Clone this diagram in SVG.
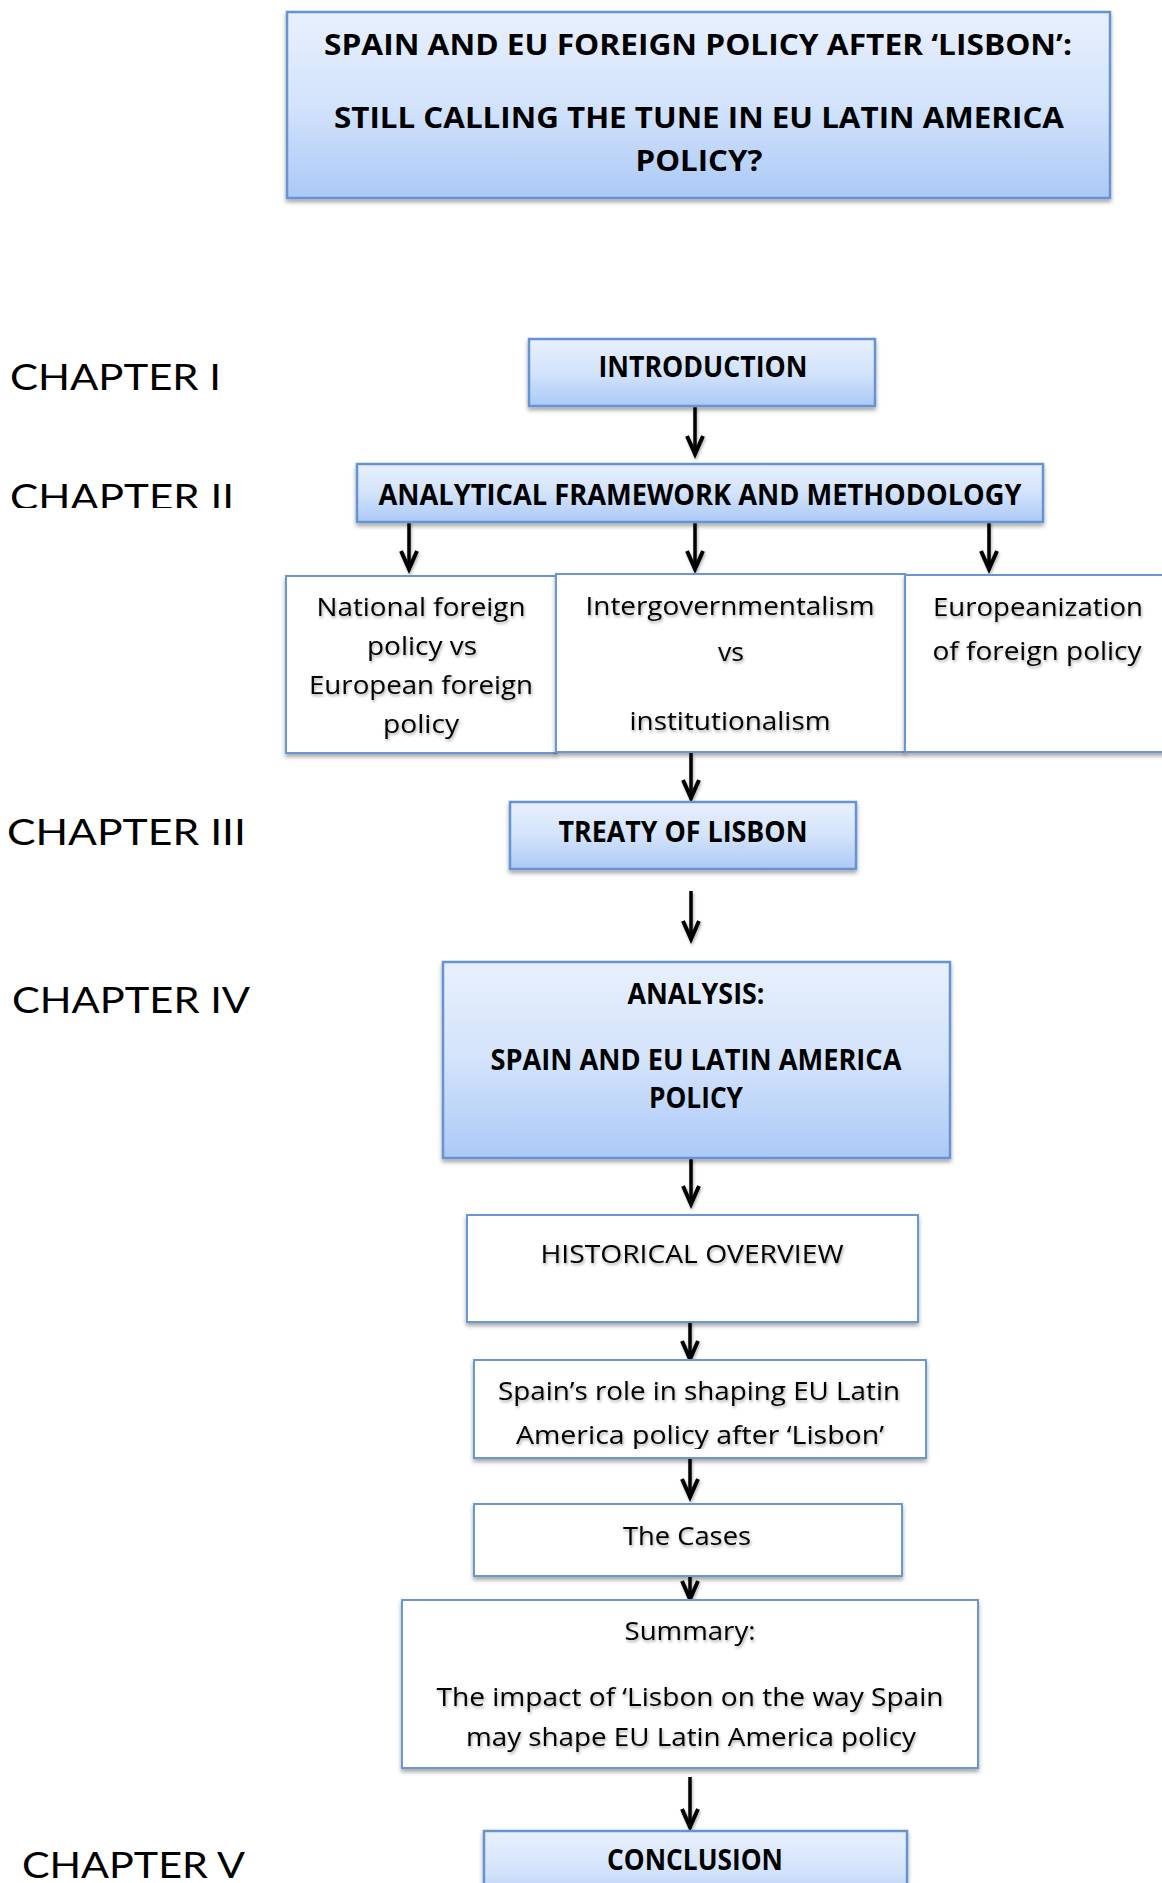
<svg xmlns="http://www.w3.org/2000/svg" width="1162" height="1883" viewBox="0 0 1162 1883">
<defs>
<style>
.bg{fill:#ffffff}
.blue{fill:url(#gBlue);stroke:#6594d0;stroke-width:2.5;filter:url(#boxShadow)}
.white{fill:#ffffff;stroke:#6a97cf;stroke-width:2;filter:url(#boxShadow)}
.bt{font-family:"Open Sans","Liberation Sans",sans-serif;font-weight:700;font-size:28px;fill:#000;text-anchor:middle}
.rt{font-family:"Open Sans","Liberation Sans",sans-serif;font-weight:400;font-size:26px;fill:#000;text-anchor:middle;filter:url(#txtShadow)}
.ch{font-family:Lato,"Open Sans",sans-serif;font-weight:400;font-size:37px;fill:#000}
.arr{fill:none;stroke:#000;stroke-width:3.5;marker-end:url(#head)}
</style>
<linearGradient id="gBlue" x1="0" y1="0" x2="0" y2="1">
<stop offset="0" stop-color="#e8f0fd"/>
<stop offset="0.5" stop-color="#d3e3fb"/>
<stop offset="1" stop-color="#abc9f7"/>
</linearGradient>
<filter id="boxShadow" x="-5%" y="-10%" width="110%" height="130%">
<feDropShadow dx="0" dy="3" stdDeviation="2" flood-color="#000" flood-opacity="0.35"/>
</filter>
<filter id="txtShadow" x="-5%" y="-30%" width="110%" height="160%">
<feDropShadow dx="1" dy="2" stdDeviation="1.5" flood-color="#000" flood-opacity="0.35"/>
</filter>
<filter id="arrShadow" filterUnits="userSpaceOnUse" x="0" y="0" width="1162" height="1883">
<feDropShadow dx="1" dy="2" stdDeviation="1.5" flood-color="#000" flood-opacity="0.3"/>
</filter>
<marker id="head" viewBox="-24 -12 28 24" refX="0" refY="0" markerWidth="28" markerHeight="24" markerUnits="userSpaceOnUse" orient="auto" overflow="visible">
<path d="M -19 -8 L -1 0 L -19 8" fill="none" stroke="#000" stroke-width="4" stroke-linejoin="miter"/>
</marker>
<clipPath id="clipCh2"><rect x="0" y="470" width="300" height="38"/></clipPath>
<clipPath id="clipRole"><rect x="474" y="1360" width="452" height="89"/></clipPath>
</defs>
<rect class="bg" x="0" y="0" width="1162" height="1883"/>

<g id="chapters">
<text class="ch" x="10" y="390" textLength="211" lengthAdjust="spacingAndGlyphs">CHAPTER I</text>
<g clip-path="url(#clipCh2)"><text class="ch" x="10" y="510" textLength="224" lengthAdjust="spacingAndGlyphs">CHAPTER II</text></g>
<text class="ch" x="7" y="845" textLength="239" lengthAdjust="spacingAndGlyphs">CHAPTER III</text>
<text class="ch" x="12" y="1013" textLength="238" lengthAdjust="spacingAndGlyphs">CHAPTER IV</text>
<text class="ch" x="22" y="1878" textLength="223" lengthAdjust="spacingAndGlyphs">CHAPTER V</text>
</g>

<g id="connectors" filter="url(#arrShadow)">
<path class="arr" d="M695 406 V455"/>
<path class="arr" d="M409 522 V570"/>
<path class="arr" d="M695 522 V570"/>
<path class="arr" d="M989 522 V570"/>
<path class="arr" d="M691 753 V799"/>
<path class="arr" d="M691 891 V940"/>
<path class="arr" d="M691 1158 V1205"/>
<path class="arr" d="M690 1322 V1360"/>
<path class="arr" d="M690 1458 V1498"/>
<path class="arr" d="M690 1576 V1600"/>
<path class="arr" d="M690 1777 V1828"/>
</g>

<g id="title">
<rect class="blue" x="287" y="12" width="823" height="186"/>
<text class="bt" x="698" y="55" textLength="748" lengthAdjust="spacingAndGlyphs">SPAIN AND EU FOREIGN POLICY AFTER ‘LISBON’:</text>
<text class="bt" x="699" y="128" textLength="730" lengthAdjust="spacingAndGlyphs">STILL CALLING THE TUNE IN EU LATIN AMERICA</text>
<text class="bt" x="699" y="171" textLength="127" lengthAdjust="spacingAndGlyphs">POLICY?</text>
</g>

<g id="introduction">
<rect class="blue" x="529" y="339" width="346" height="67"/>
<text class="bt" x="703" y="377" textLength="209" lengthAdjust="spacingAndGlyphs">INTRODUCTION</text>
</g>

<g id="framework">
<rect class="blue" x="357" y="464" width="686" height="58"/>
<text class="bt" x="700" y="505" textLength="643" lengthAdjust="spacingAndGlyphs">ANALYTICAL FRAMEWORK AND METHODOLOGY</text>
</g>

<g id="national">
<rect class="white" x="286" y="576" width="270" height="177"/>
<text class="rt" x="421" y="616" textLength="209" lengthAdjust="spacingAndGlyphs">National foreign</text>
<text class="rt" x="422" y="655" textLength="110" lengthAdjust="spacingAndGlyphs">policy vs</text>
<text class="rt" x="421" y="694" textLength="224" lengthAdjust="spacingAndGlyphs">European foreign</text>
<text class="rt" x="421" y="733" textLength="76" lengthAdjust="spacingAndGlyphs">policy</text>
</g>

<g id="intergov">
<rect class="white" x="556" y="574" width="349" height="178"/>
<text class="rt" x="730" y="615" textLength="289" lengthAdjust="spacingAndGlyphs">Intergovernmentalism</text>
<text class="rt" x="731" y="661" textLength="26" lengthAdjust="spacingAndGlyphs">vs</text>
<text class="rt" x="730" y="730" textLength="201" lengthAdjust="spacingAndGlyphs">institutionalism</text>
</g>

<g id="europeanization">
<rect class="white" x="905" y="575" width="270" height="177"/>
<text class="rt" x="1038" y="616" textLength="210" lengthAdjust="spacingAndGlyphs">Europeanization</text>
<text class="rt" x="1037" y="660" textLength="209" lengthAdjust="spacingAndGlyphs">of foreign policy</text>
</g>

<g id="treaty">
<rect class="blue" x="510" y="802" width="346" height="67"/>
<text class="bt" x="683" y="842" textLength="249" lengthAdjust="spacingAndGlyphs">TREATY OF LISBON</text>
</g>

<g id="analysis">
<rect class="blue" x="443" y="962" width="507" height="196"/>
<text class="bt" x="696" y="1004" textLength="137" lengthAdjust="spacingAndGlyphs">ANALYSIS:</text>
<text class="bt" x="696" y="1070" textLength="411" lengthAdjust="spacingAndGlyphs">SPAIN AND EU LATIN AMERICA</text>
<text class="bt" x="696" y="1108" textLength="94" lengthAdjust="spacingAndGlyphs">POLICY</text>
</g>

<g id="historical">
<rect class="white" x="467" y="1215" width="451" height="107"/>
<text class="rt" x="692" y="1263" textLength="303" lengthAdjust="spacingAndGlyphs">HISTORICAL OVERVIEW</text>
</g>

<g id="role">
<rect class="white" x="474" y="1360" width="452" height="98"/>
<g clip-path="url(#clipRole)">
<text class="rt" x="699" y="1400" textLength="402" lengthAdjust="spacingAndGlyphs">Spain’s role in shaping EU Latin</text>
<text class="rt" x="700" y="1444" textLength="368" lengthAdjust="spacingAndGlyphs">America policy after ‘Lisbon’</text>
</g>
</g>

<g id="cases">
<rect class="white" x="474" y="1504" width="428" height="72"/>
<text class="rt" x="687" y="1545" textLength="128" lengthAdjust="spacingAndGlyphs">The Cases</text>
</g>

<g id="summary">
<rect class="white" x="402" y="1600" width="576" height="168"/>
<text class="rt" x="690" y="1640" textLength="131" lengthAdjust="spacingAndGlyphs">Summary:</text>
<text class="rt" x="690" y="1706" textLength="507" lengthAdjust="spacingAndGlyphs">The impact of ‘Lisbon on the way Spain</text>
<text class="rt" x="691" y="1746" textLength="450" lengthAdjust="spacingAndGlyphs">may shape EU Latin America policy</text>
</g>

<g id="conclusion">
<rect class="blue" x="484" y="1831" width="423" height="80"/>
<text class="bt" x="695" y="1870" textLength="176" lengthAdjust="spacingAndGlyphs">CONCLUSION</text>
</g>
</svg>
